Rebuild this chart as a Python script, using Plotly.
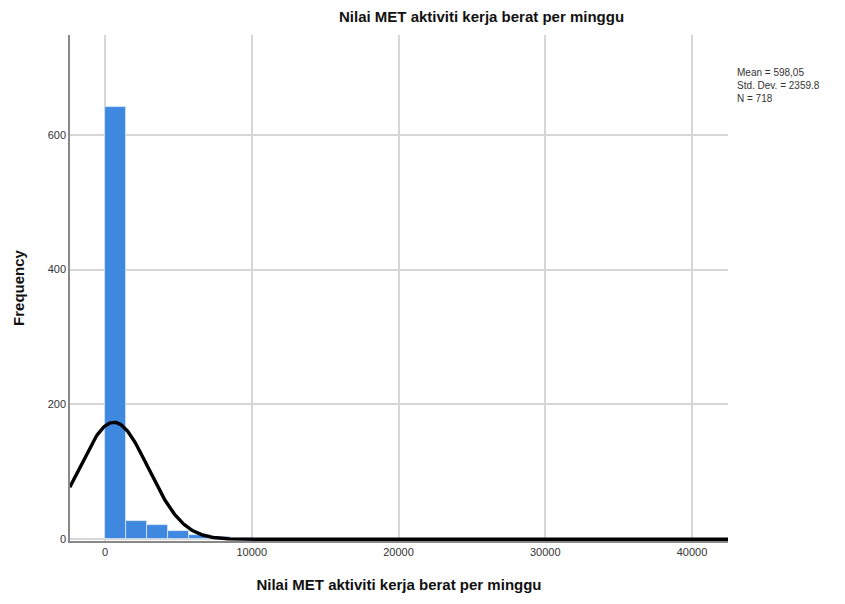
import numpy as np
import plotly.graph_objects as go

# Data
bin_width = 1430
bin_counts = [641, 27, 21, 13, 6, 3, 2, 1, 1, 1, 0, 1, 0, 0, 0, 0, 0, 0, 0, 0,
              0, 0, 0, 0, 0, 0, 0, 0, 1]
mean_val = 598.05
std_val = 2359.8
n_val = 718
y_ticks = [0, 200, 400, 600]
x_ticks = [0, 10000, 20000, 30000, 40000]
title_text = "Nilai MET aktiviti kerja berat per minggu"

centers = [bin_width * (i + 0.5) for i in range(len(bin_counts))]

xs = np.linspace(-2400, 42450, 600)
ys = n_val * bin_width / (std_val * np.sqrt(2 * np.pi)) * np.exp(-0.5 * ((xs - mean_val) / std_val) ** 2)

# page has an 8px body offset
OFF = 8
L, R, T, B = 70 - OFF, 845 - (728 - OFF), 35 - OFF, 604 - (541 - OFF)
plot_w = 845 - L - R
plot_h = 604 - T - B

fig = go.Figure()
fig.add_trace(go.Bar(x=centers, y=bin_counts, width=bin_width,
                     marker=dict(color="#3f88e0", line=dict(color="#dfe9f7", width=0.8)),
                     showlegend=False))
fig.add_trace(go.Scatter(x=xs, y=ys, mode="lines", line=dict(color="black", width=3.4),
                         showlegend=False, cliponaxis=False))

fig.update_layout(
    width=845, height=604,
    margin=dict(l=L, r=R, t=T, b=B, autoexpand=False),
    paper_bgcolor="white", plot_bgcolor="white",
    font=dict(family="Liberation Sans, Arial, sans-serif", color="#222"),
    bargap=0,
    annotations=[
        dict(text="<b>" + title_text + "</b>", x=(481 - OFF - L) / plot_w, xref="paper",
             y=1 + (T - (17 - OFF)) / plot_h, yref="paper", yanchor="middle",
             showarrow=False, font=dict(size=15, color="#111")),
        dict(text="Mean = 598,05<br>Std. Dev. = 2359.8<br>N = " + str(n_val),
             x=(735 - OFF - L) / plot_w, xref="paper", y=1 - ((65 - OFF) - T) / plot_h, yref="paper",
             xanchor="left", yanchor="top",
             align="left", showarrow=False, font=dict(size=10, color="#333")),
    ],
    xaxis=dict(range=[-2385, 42450], tickvals=x_ticks, ticktext=[str(v) for v in x_ticks],
               showgrid=True, gridcolor="#d6d6d6", gridwidth=1.5, zeroline=False,
               showline=True, linecolor="#888", linewidth=1.5, ticks="", automargin=False,
               tickfont=dict(size=11, color="#333"),
               title=dict(text="<b>" + title_text + "</b>", font=dict(size=15, color="#111"), standoff=23)),
    yaxis=dict(range=[-2.5, 748], tickvals=y_ticks, ticktext=[str(v) for v in y_ticks],
               showgrid=True, gridcolor="#d6d6d6", gridwidth=1.5, zeroline=False,
               showline=True, linecolor="#888", linewidth=1.5, ticks="", automargin=False,
               tickfont=dict(size=11, color="#333"),
               title=dict(text="<b>Frequency</b>", font=dict(size=15, color="#111"), standoff=19)),
)

fig.write_html("out.html")
